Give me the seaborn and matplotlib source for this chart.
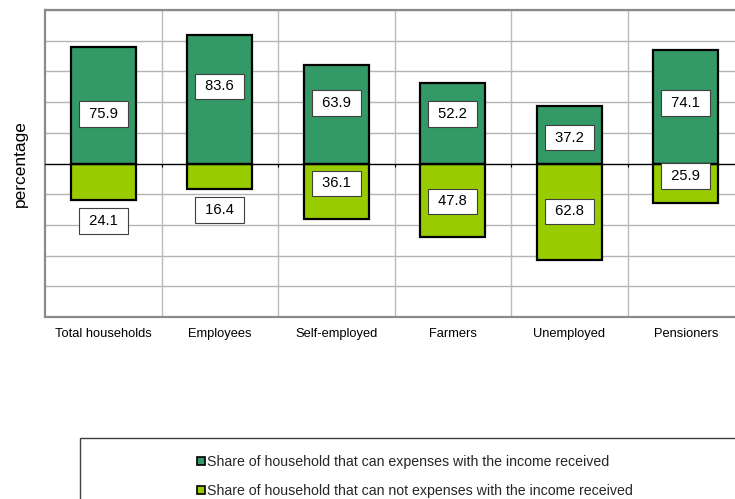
import matplotlib
matplotlib.use("Agg")
import matplotlib.pyplot as plt
import seaborn as sns
import pandas as pd
from matplotlib.patches import Patch, Rectangle

categories = ["Total households", "Employees", "Self-employed", "Farmers", "Unemployed", "Pensioners"]
can_cover = [75.9, 83.6, 63.9, 52.2, 37.2, 74.1]
cannot_cover = [24.1, 16.4, 36.1, 47.8, 62.8, 25.9]
# label anchor heights (data units) as placed in the original chart
can_label_y = [32.5, 50.2, 39.6, 32.5, 16.9, 39.6]
cannot_label_y = [-37.5, -30.5, -13.0, -24.7, -31.2, -8.2]

series_names = ["Share of household that can expenses with the income received",
                "Share of household that can not expenses with the income received"]
c_green = "#339966"
c_lime = "#99CC00"

sns.set_theme(style="white")
plt.rcParams["font.family"] = ["Liberation Sans", "DejaVu Sans"]

W, H = 735, 499
fig = plt.figure(figsize=(W / 100, H / 100), dpi=100)
ax = fig.add_axes([45 / W, 1 - 317 / H, 699 / W, 307 / H])

df_pos = pd.DataFrame({"cat": categories, "val": can_cover})
df_neg = pd.DataFrame({"cat": categories, "val": [-v for v in cannot_cover]})

sns.barplot(data=df_pos, x="cat", y="val", color=c_green, saturation=1, width=0.56,
            edgecolor="black", linewidth=1.6, ax=ax, zorder=3)
sns.barplot(data=df_neg, x="cat", y="val", color=c_lime, saturation=1, width=0.56,
            edgecolor="black", linewidth=1.6, ax=ax, zorder=3)

ax.set_xlim(-0.5, len(categories) - 0.5)
ax.set_ylim(-100, 100)
ax.set_yticks(range(-100, 101, 20))
ax.set_yticklabels([])
ax.tick_params(axis="y", length=0)
ax.tick_params(axis="x", length=0, pad=8, labelsize=9.3, labelcolor="black")
ax.set_xlabel("")
ax.set_ylabel("percentage", fontsize=12.5, color="black", labelpad=9)

# gridlines
for yv in range(-100, 101, 20):
    if yv != 0:
        ax.axhline(yv, color="#b4b4b4", lw=1.0, zorder=1)
for i in range(len(categories) - 1):
    ax.axvline(i + 0.5, color="#bcbcbc", lw=1.0, zorder=1)
    ax.vlines(i + 0.5, -2.2, 0, color="black", lw=0.8, zorder=4)
ax.axhline(0, color="black", lw=1.0, zorder=4)

for sp in ax.spines.values():
    sp.set_color("#8a8a8a")
    sp.set_linewidth(1.6)

bbox = dict(boxstyle="square,pad=0.4", fc="white", ec="#404040", lw=0.8)
for i in range(len(categories)):
    ax.text(i, can_label_y[i], f" {can_cover[i]:.1f} ", ha="center", va="center",
            fontsize=10.6, color="black", bbox=bbox, zorder=6)
    ax.text(i, cannot_label_y[i], f" {cannot_cover[i]:.1f} ", ha="center", va="center",
            fontsize=10.6, color="black", bbox=bbox, zorder=6)

# legend frame
fig.patches.append(Rectangle((80 / W, -0.1), 0.95, 1 - 438 / H + 0.1,
                             transform=fig.transFigure, fill=False,
                             ec="#404040", lw=1.0))
handles = [Patch(fc=c_green, ec="black", lw=1.2, label=series_names[0]),
           Patch(fc=c_lime, ec="black", lw=1.2, label=series_names[1])]
leg = fig.legend(handles=handles, loc="center left",
                 bbox_to_anchor=(190 / W, 1 - 476.5 / H), frameon=False,
                 fontsize=10.2, handlelength=0.55, handleheight=0.55,
                 handletextpad=0.12, labelspacing=1.05, borderpad=0)

fig.savefig("out.png", dpi=100)
